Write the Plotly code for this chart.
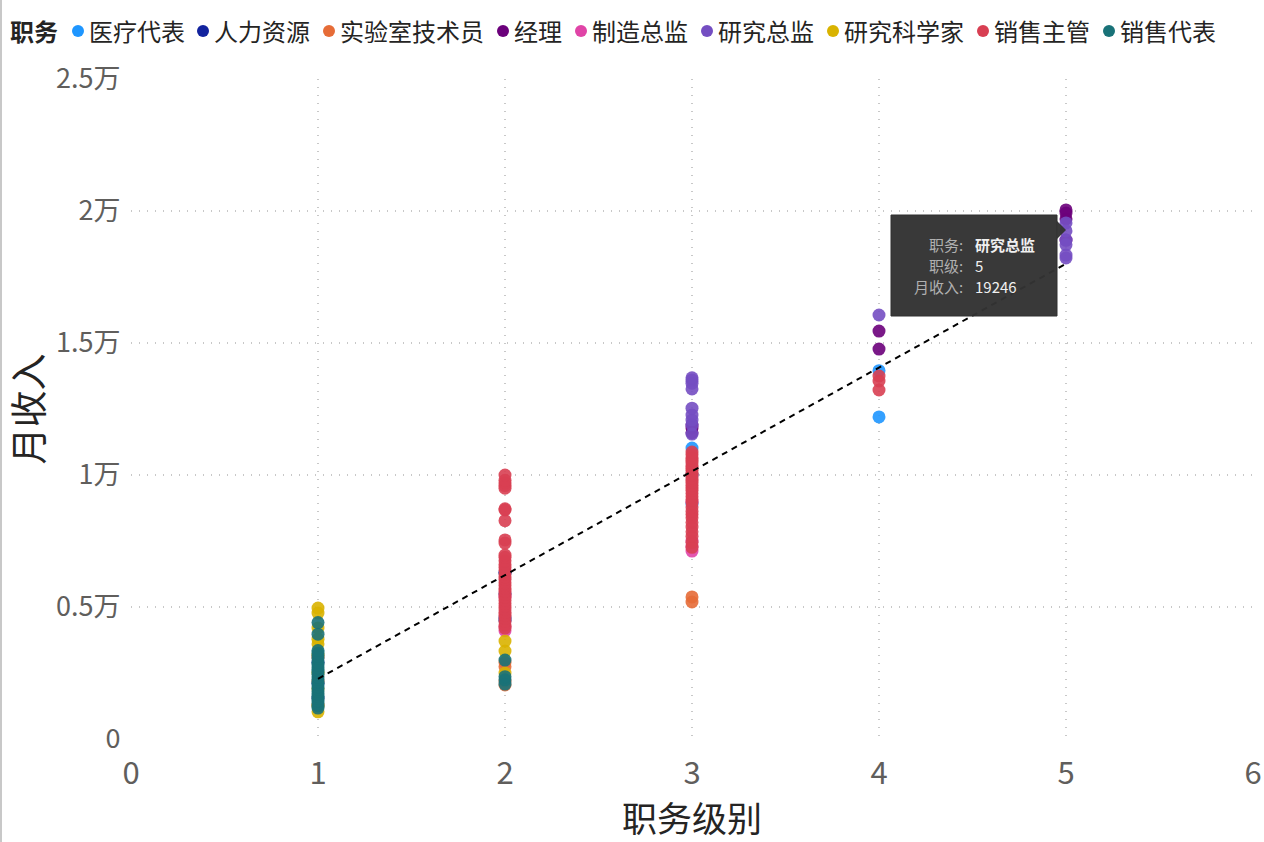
import plotly.graph_objects as go

FONT = "Noto Sans CJK SC"

ROLES = ["医疗代表", "人力资源", "实验室技术员", "经理", "制造总监", "研究总监", "研究科学家", "销售主管", "销售代表"]
COLORS = ["#1E96FF", "#12239E", "#E66C37", "#6B007B", "#E044A7", "#744EC2", "#D9B300", "#D83F52", "#197278"]

med_rep_x = [2, 2, 3, 3, 4, 4]
med_rep_y = [4600, 6300, 8900, 11020, 12200, 13950]
hr_x = [1, 1, 1, 2, 2, 2, 3]
hr_y = [1550, 2100, 2900, 4500, 5500, 6300, 10000]
lab_x = [1, 1, 1, 2, 2, 2, 2, 3, 3]
lab_y = [1300, 2200, 3100, 2050, 2200, 2740, 2900, 5190, 5380]
manager_x = [3, 3, 3, 4, 4, 5, 5, 5, 5]
manager_y = [11600, 11780, 11900, 14770, 15450, 18900, 19700, 19920, 20040]
mfg_x = [2, 2, 2, 3, 3, 3, 3]
mfg_y = [4100, 4250, 5400, 7120, 7300, 7500, 9000]
research_dir_x = [3, 3, 3, 3, 3, 3, 3, 3, 3, 4, 5, 5, 5, 5, 5, 5]
research_dir_y = [11550, 11890, 12080, 12270, 12530, 13260, 13480, 13600, 13680, 16060, 18220, 18330, 18720, 18900, 19246, 19550]
scientist_x = [1, 1, 1, 1, 1, 1, 1, 1, 1, 1, 2, 2, 2]
scientist_y = [1030, 1250, 1900, 2500, 3200, 3600, 3780, 4200, 4770, 4960, 2500, 3330, 3710]
sales_mgr_x = [2] * 35 + [3] * 30 + [4] * 3
sales_mgr_y = [
    4200, 4320, 4450, 4580, 4690, 4800, 4920, 5040, 5130, 5250, 5370, 5480, 5600, 5700, 5810,
    5920, 6050, 6150, 6260, 6380, 6500, 6610, 6750, 6880, 6970, 7420, 7540, 8270, 8675, 8720,
    9500, 9600, 9700, 9800, 10000,
    7260, 7450, 7680, 7850, 8030, 8200, 8380, 8500, 8620, 8790, 8950, 9060, 9180, 9300, 9420,
    9520, 9610, 9730, 9820, 9900, 10000, 10080, 10170, 10260, 10350, 10450, 10560, 10650, 10770, 10870,
    13220, 13560, 13750,
]
sales_rep_x = [1] * 26 + [2] * 4
sales_rep_y = [
    1170, 1260, 1350, 1450, 1530, 1620, 1710, 1800, 1900, 1980, 2080, 2170,
    2250, 2350, 2440, 2530, 2620, 2700, 2800, 2900, 3050, 3150, 3250, 3350, 3970, 4410,
    2080, 2240, 2360, 2990,
]

trend_x = [1, 5]
trend_y = [2280, 18000]

x_ticks = [0, 1, 2, 3, 4, 5, 6]
y_ticks = [0, 5000, 10000, 15000, 20000, 25000]
y_labels = ["0", "0.5万", "1万", "1.5万", "2万", "2.5万"]

role_x = [med_rep_x, hr_x, lab_x, manager_x, mfg_x, research_dir_x, scientist_x, sales_mgr_x, sales_rep_x]
role_y = [med_rep_y, hr_y, lab_y, manager_y, mfg_y, research_dir_y, scientist_y, sales_mgr_y, sales_rep_y]

# plot area edges in window pixels
LEFT, RIGHT, TOP, BOTTOM = 131, 1253, 79, 739


def px(x):
    return (x - LEFT) / (RIGHT - LEFT)


def py(y):
    return (BOTTOM - y) / (BOTTOM - TOP)


fig = go.Figure()
for name, color, xs, ys in zip(ROLES, COLORS, role_x, role_y):
    fig.add_trace(go.Scatter(
        x=xs, y=ys, mode="markers", name=name, showlegend=False,
        marker=dict(size=13, color=color, opacity=0.9),
    ))

fig.add_trace(go.Scatter(
    x=trend_x, y=trend_y, mode="lines", showlegend=False,
    line=dict(color="black", width=2, dash="6px,5px"),
))

annotations = []
shapes = []

# legend row, drawn by hand because the native one is too wide for one line
annotations.append(dict(
    text="<b>职务</b>", xref="paper", yref="paper", x=px(10), y=py(30),
    xanchor="left", yanchor="middle", showarrow=False, xshift=-2,
    font=dict(family=FONT, size=24, color="#252423"),
))
legend_dots = [78, 203, 329, 503, 581, 707, 833, 983, 1109]
for name, color, dot in zip(ROLES, COLORS, legend_dots):
    shapes.append(dict(
        type="circle", xref="paper", yref="paper", layer="above",
        x0=px(dot - 6), x1=px(dot + 6), y0=py(37), y1=py(25),
        fillcolor=color, line=dict(width=0),
    ))
    annotations.append(dict(
        text=name, xref="paper", yref="paper", x=px(dot + 12), y=py(30),
        xanchor="left", yanchor="middle", showarrow=False, xshift=-3,
        font=dict(family=FONT, size=24, color="#252423"),
    ))

# tooltip box
shapes.append(dict(
    type="rect", xref="paper", yref="paper", layer="above",
    x0=px(891), x1=px(1057), y0=py(316), y1=py(215),
    fillcolor="#333333", opacity=0.97, line=dict(color="#2a2a2a", width=1),
))
shapes.append(dict(
    type="path", xref="paper", yref="paper", layer="above",
    path=f"M {px(1057)} {py(221)} L {px(1066)} {py(230)} L {px(1057)} {py(239)} Z",
    fillcolor="#333333", opacity=0.97, line=dict(width=0),
))
tip_labels = ["职务:", "职级:", "月收入:"]
tip_values = ["<b>研究总监</b>", "5", "19246"]
tip_rows = [244, 265, 286]
for label, value, row in zip(tip_labels, tip_values, tip_rows):
    annotations.append(dict(
        text=label, xref="paper", yref="paper", x=px(964), y=py(row),
        xanchor="right", yanchor="middle", showarrow=False, borderpad=0,
        font=dict(family=FONT, size=15, color="#B0B0B0"),
    ))
    annotations.append(dict(
        text=value, xref="paper", yref="paper", x=px(974), y=py(row),
        xanchor="left", yanchor="middle", showarrow=False, borderpad=0,
        font=dict(family=FONT, size=15, color="#F0F0F0"),
    ))

# thin window edge on the left
shapes.append(dict(
    type="rect", xref="paper", yref="paper", layer="below",
    x0=px(0), x1=px(2), y0=py(842), y1=py(0),
    fillcolor="#C8C8C8", line=dict(width=0),
))

fig.update_layout(
    width=1264, height=842,
    margin=dict(l=LEFT, r=1264 - RIGHT, t=TOP, b=842 - BOTTOM),
    plot_bgcolor="white", paper_bgcolor="white",
    font=dict(family=FONT),
    annotations=annotations, shapes=shapes,
    xaxis=dict(
        range=[0, 6], tickvals=x_ticks, zeroline=False, automargin=False,
        ticks="outside", ticklen=7, tickcolor="rgba(0,0,0,0)",
        showgrid=True, gridcolor="#C8C8C8", griddash="1px,7px", gridwidth=1.5,
        tickfont=dict(family=FONT, size=31, color="#605E5C"),
        title=dict(text="职务级别", standoff=5, font=dict(family=FONT, size=35, color="#252423")),
    ),
    yaxis=dict(
        range=[0, 25000], tickvals=y_ticks, ticktext=y_labels, zeroline=False, automargin=False,
        ticks="outside", ticklen=4, tickcolor="rgba(0,0,0,0)",
        showgrid=True, gridcolor="#C8C8C8", griddash="1px,7px", gridwidth=1.5,
        tickfont=dict(family=FONT, size=27, color="#605E5C"),
        title=dict(text="月收入", standoff=13, font=dict(family=FONT, size=37, color="#252423")),
    ),
)

fig.write_html("out.html", config=dict(displayModeBar=False), post_script="document.body.style.margin='0';")
